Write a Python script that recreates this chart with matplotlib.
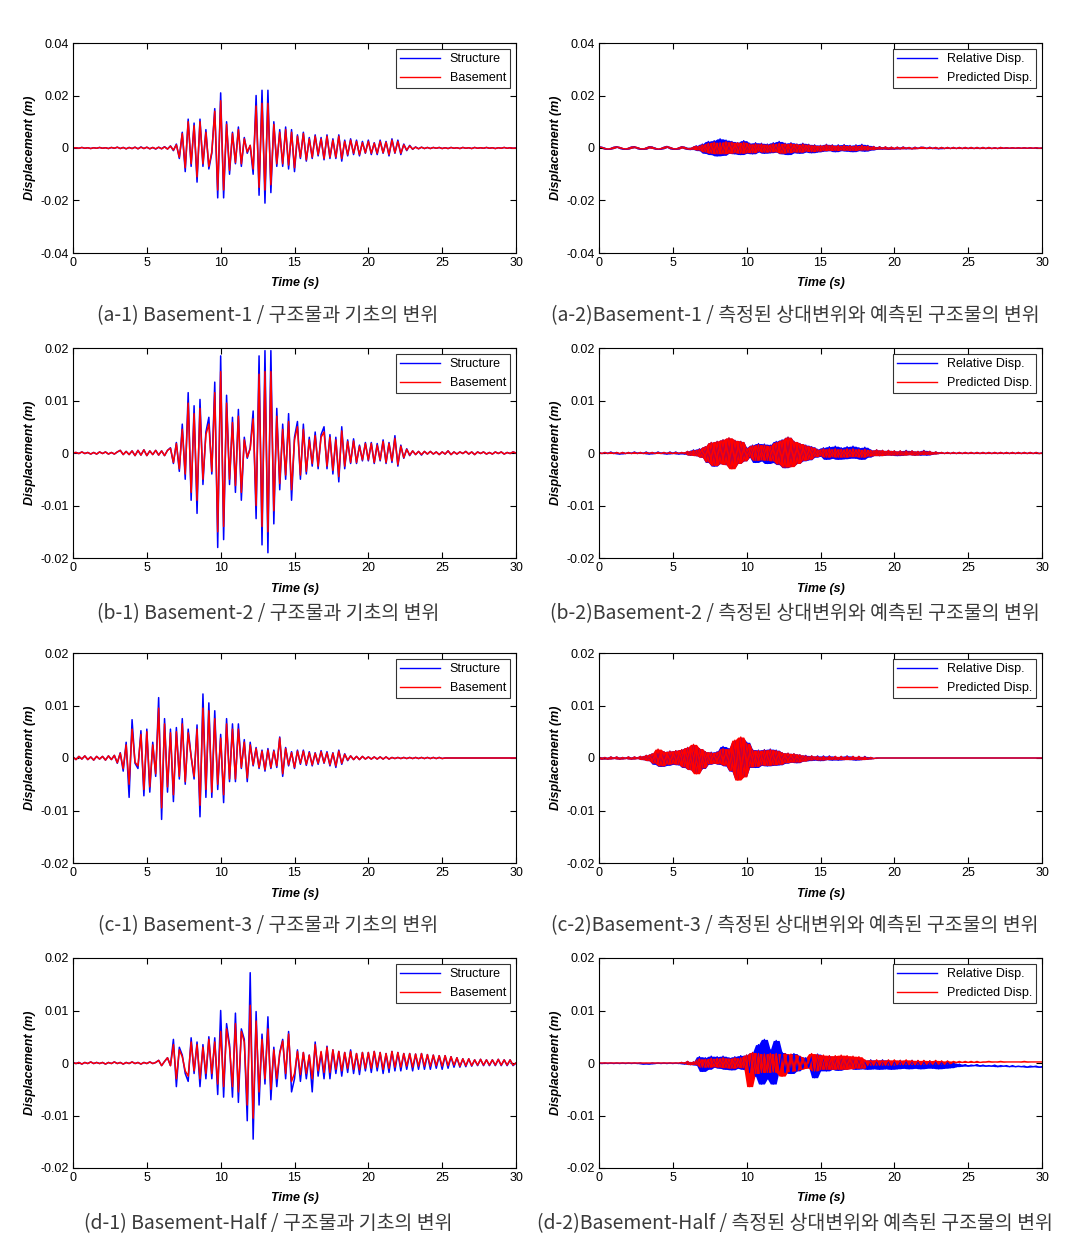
import numpy as np
import matplotlib

matplotlib.use("Agg")
import matplotlib.pyplot as plt

plt.rcParams["font.family"] = ["Liberation Sans", "DejaVu Sans"]

BLUE = "#0000FF"
RED = "#FF0000"
CAPTION_FONT = ["Noto Sans CJK KR", "DejaVu Sans"]

# peak-to-peak trace of each record, read every 0.2 s (values in 1e-4 m)
TIME_S = np.round(np.arange(151) * 0.2, 1)

struct_a1 = [
    0, 1, -1, 2, -1, 1, -2, 1, -1, 2,
    -1, 1, -2, 2, -1, 3, -2, 2, -3, 2,
    -2, 3, -3, 4, -2, 3, -3, 2, -4, 3,
    -3, 5, -4, 8, -10, 15, -40, 60, -90, 110,
    -70, 95, -130, 110, -70, 70, -80, -20, 150, -190,
    210, -190, 100, -100, 60, -60, 80, -70, 40, -20,
    10, -100, 200, -180, 220, -210, 220, -170, 100, -70,
    70, -70, 80, -80, 70, -90, 50, -40, 60, -50,
    40, -40, 50, -30, 40, -45, 50, -40, 35, -40,
    50, -50, 30, -30, 35, -25, 30, -30, 25, -20,
    30, -25, 20, -25, 30, -20, 25, -30, 35, -20,
    30, -25, 15, -10, 10, -5, 4, -3, 3, -2,
    2, -2, 2, -1, 2, -2, 1, -2, 2, -1,
    1, -2, 2, -1, 1, -2, 2, -1, 1, -1,
    2, -1, 1, -2, 1, -1, 2, -1, 1, -1,
    0,
]
base_a1 = [
    0, 1, -1, 2, -1, 1, -2, 1, -1, 2,
    -1, 1, -2, 2, -1, 3, -2, 2, -3, 2,
    -2, 3, -3, 3, -2, 3, -3, 2, -3, 3,
    -3, 4, -4, 7, -8, 12, -35, 55, -75, 100,
    -60, 85, -110, 100, -60, 60, -70, -15, 140, -160,
    180, -160, 90, -85, 55, -55, 70, -60, 35, -15,
    10, -80, 160, -150, 170, -160, 170, -140, 90, -60,
    60, -60, 70, -65, 60, -75, 45, -35, 55, -45,
    35, -35, 45, -25, 35, -40, 45, -35, 30, -35,
    45, -40, 25, -25, 30, -20, 25, -25, 20, -18,
    25, -20, 18, -20, 25, -18, 22, -25, 30, -18,
    25, -20, 12, -8, 8, -4, 3, -3, 3, -2,
    2, -2, 2, -1, 2, -2, 1, -2, 2, -1,
    1, -2, 2, -1, 1, -2, 2, -1, 1, -1,
    2, -1, 1, -2, 1, -1, 2, -1, 1, -1,
    0,
]
rel_a2 = [
    5, 3, -2, -5, -2, 3, 5, 2, -3, -5,
    -1, 4, 5, 1, -4, -5, 0, 5, 4, -2,
    -5, -3, 3, 6, 2, -4, -5, 0, 5, 3,
    -4, -6, 3, 8, -10, 15, -20, 25, -25, 28,
    -30, 35, -28, 30, -20, 25, -22, 20, -25, 28,
    -20, 18, -22, 20, -15, 18, -20, 15, -18, 20,
    -15, 25, -22, 18, -25, 20, -18, 15, -20, 18,
    -15, 14, -18, 12, -15, 10, -12, 14, -10, 12,
    -14, 12, -10, 13, -12, 10, -14, 12, -10, 14,
    -12, 10, -8, 6, -5, 5, -4, 4, -5, 3,
    -4, 3, -3, 4, -3, 2, -3, 3, -2, 3,
    2, -2, 3, -2, 2, -3, 2, -2, 2, -2,
    2, -2, 2, -2, 2, -2, 2, -2, 2, -2,
    2, -2, 2, -2, 1, -2, 2, -1, 1, -1,
    1, -1, 1, -1, 1, -1, 1, -1, 1, -1,
    0,
]
pred_a2 = [
    4, 2, -2, -4, -2, 2, 4, 2, -2, -4,
    -1, 3, 4, 1, -3, -4, 0, 4, 3, -2,
    -4, -2, 2, 5, 2, -3, -4, 0, 4, 2,
    -3, -5, 3, 6, -8, 12, -15, 18, -20, 22,
    -22, 20, -22, 24, -20, 22, -18, 20, -20, 22,
    -18, 15, -18, 16, -12, 15, -16, 12, -15, 16,
    -14, 18, -20, 16, -18, 17, -15, 14, -16, 15,
    -12, 12, -14, 10, -12, 9, -10, 12, -9, 10,
    -10, 9, -8, 10, -9, 8, -10, 9, -8, 10,
    -8, 7, -6, 5, -4, 4, -3, 4, -4, 3,
    -3, 3, -3, 3, -2, 2, -3, 2, -2, 2,
    2, -2, 2, -2, 2, -2, 2, -2, 2, -2,
    2, -2, 2, -2, 2, -2, 2, -2, 2, -2,
    2, -2, 2, -2, 1, -2, 2, -1, 1, -1,
    1, -1, 1, -1, 1, -1, 1, -1, 1, -1,
    0,
]

struct_b1 = [
    0, 1, -1, 2, -1, 1, -2, 1, -2, 2,
    -1, 2, -2, 1, -2, 2, 5, -3, 3, -3,
    4, -5, 5, -4, 6, -5, 4, -3, 5, -4,
    4, -5, 5, 10, -20, 20, -35, 55, -50, 115,
    -90, 90, -115, 102, -60, 40, 68, -40, 135, -180,
    185, -165, 110, -60, 68, -75, 83, -90, 30, -10,
    10, 80, -125, 185, -175, 195, -190, 195, -135, 85,
    -70, 55, -50, 75, -90, 30, 60, -50, 55, -40,
    30, -25, 40, -30, 35, 50, -30, 35, -40, 30,
    -55, 50, -30, 25, -20, 27, -20, 15, -15, 20,
    -15, 20, -20, 18, -15, 25, -20, 20, -18, 33,
    -25, 15, -10, 8, -5, 4, -3, 3, -4, 3,
    -2, 3, -2, 2, -3, 2, -2, 4, -3, 2,
    -2, 2, -1, 3, -2, 2, -3, 2, -1, 2,
    -2, 1, -2, 2, -1, 2, -2, 1, -1, 2,
    0,
]
base_b1 = [
    0, 1, -1, 2, -1, 1, -2, 1, -2, 2,
    -1, 2, -2, 1, -2, 2, 5, -3, 3, -3,
    4, -5, 5, -4, 6, -5, 4, -3, 5, -4,
    4, -5, 5, 9, -18, 18, -30, 45, -40, 95,
    -75, 75, -90, 85, -50, 35, 55, -35, 115, -150,
    155, -140, 95, -50, 58, -62, 70, -75, 25, -8,
    8, 65, -100, 150, -140, 155, -150, 155, -110, 70,
    -58, 45, -42, 60, -70, 25, 50, -42, 45, -35,
    25, -20, 33, -25, 30, 40, -25, 30, -33, 25,
    -45, 42, -25, 22, -18, 23, -18, 13, -13, 18,
    -13, 18, -18, 15, -13, 22, -18, 18, -15, 28,
    -22, 13, -9, 7, -4, 4, -3, 3, -3, 3,
    -2, 3, -2, 2, -3, 2, -2, 4, -3, 2,
    -2, 2, -1, 3, -2, 2, -3, 2, -1, 2,
    -2, 1, -2, 2, -1, 2, -2, 1, -1, 2,
    0,
]
rel_b2 = [
    1, -1, 1, -1, 2, -1, 1, -2, 1, -1,
    1, -1, 2, -1, 1, -1, 2, -2, 1, -1,
    2, -1, 1, -2, 2, -1, 2, -2, 1, -2,
    3, -4, 6, -5, 8, -8, 12, -18, 20, -25,
    22, -20, 25, -22, 28, -28, 24, -20, 22, -15,
    10, -8, 15, -18, 18, -15, 17, -20, 15, -18,
    22, -22, 25, -28, 30, -25, 22, -20, 18, -15,
    15, -13, 12, -8, 7, -6, 10, -12, 12, -10,
    13, -12, 10, -11, 12, -10, 13, -10, 10, -12,
    11, -8, 6, -5, 6, -5, 5, -4, 5, -4,
    4, -5, 4, -4, 5, -3, 4, -4, 3, -4,
    5, -4, 3, -2, 2, -1, 1, -1, 1, -1,
    1, -1, 1, -1, 1, -1, 1, -1, 1, -1,
    1, -1, 1, -1, 1, -1, 1, -1, 1, -1,
    1, -1, 1, -1, 1, -1, 1, -1, 1, -1,
    0,
]
pred_b2 = [
    1, -1, 1, -1, 1, -1, 1, -1, 1, -1,
    1, -1, 1, -1, 1, -1, 1, -1, 1, -1,
    1, -1, 1, -1, 1, -1, 1, -1, 1, -1,
    3, -4, 5, -5, 7, -8, 12, -17, 20, -24,
    22, -20, 25, -22, 29, -30, 24, -20, 22, -15,
    9, -7, 14, -14, 16, -13, 15, -14, 13, -15,
    20, -21, 24, -27, 30, -26, 22, -20, 18, -14,
    14, -12, 11, -7, 6, -5, 8, -8, 8, -7,
    8, -8, 7, -8, 8, -7, 8, -7, 7, -8,
    7, -6, 5, -5, 6, -5, 5, -4, 5, -4,
    4, -4, 4, -4, 4, -3, 4, -4, 3, -3,
    4, -3, 3, -2, 2, -1, 1, -1, 1, -1,
    1, -1, 1, -1, 1, -1, 1, -1, 1, -1,
    1, -1, 1, -1, 1, -1, 1, -1, 1, -1,
    1, -1, 1, -1, 1, -1, 1, -1, 1, -1,
    0,
]

struct_c1 = [
    2, -3, 3, -2, 4, -3, 2, -4, 3, -2,
    3, -4, 4, -3, 5, -10, 10, -25, 30, -75,
    73, -10, -20, 52, -72, 55, -65, 30, -35, 115,
    -117, 75, -65, 55, -83, 58, -40, 75, -50, 55,
    3, -40, 63, -112, 122, -75, 105, -75, 90, -60,
    45, -85, 75, -45, 65, -45, 65, -20, 35, -45,
    30, -15, 20, -20, 15, -25, 18, -20, 15, -18,
    40, -35, 20, -15, 12, -20, 15, -12, 15, -14,
    12, -15, 10, -12, 14, -10, 12, -15, 10, -18,
    15, -12, 8, -5, 4, -3, 3, -3, 3, -2,
    2, -2, 2, -2, 2, -2, 2, -2, 1, -1,
    1, -1, 1, -1, 1, -1, 1, -1, 1, -1,
    1, -1, 1, -1, 1, -1, 0, 0, 0, 0,
    0, 0, 0, 0, 0, 0, 0, 0, 0, 0,
    0, 0, 0, 0, 0, 0, 0, 0, 0, 0,
    0,
]
base_c1 = [
    2, -3, 3, -2, 4, -3, 2, -4, 3, -2,
    3, -4, 4, -3, 5, -9, 9, -20, 25, -50,
    55, -8, -15, 45, -60, 50, -55, 25, -30, 95,
    -95, 65, -55, 48, -70, 50, -35, 65, -45, 48,
    3, -35, 55, -90, 95, -60, 90, -65, 75, -50,
    38, -70, 65, -40, 55, -40, 55, -18, 30, -38,
    25, -13, 18, -18, 13, -22, 15, -18, 13, -15,
    38, -30, 18, -13, 10, -18, 13, -10, 13, -12,
    10, -13, 9, -10, 12, -9, 10, -13, 9, -15,
    13, -10, 7, -4, 4, -3, 3, -3, 3, -2,
    2, -2, 2, -2, 2, -2, 2, -2, 1, -1,
    1, -1, 1, -1, 1, -1, 1, -1, 1, -1,
    1, -1, 1, -1, 1, -1, 0, 0, 0, 0,
    0, 0, 0, 0, 0, 0, 0, 0, 0, 0,
    0, 0, 0, 0, 0, 0, 0, 0, 0, 0,
    0,
]
rel_c2 = [
    2, -2, 1, -2, 2, -1, 2, -2, 1, -1,
    2, -2, 2, -1, 3, -3, 5, -5, 8, -12,
    15, -16, 12, -14, 13, -12, 14, -13, 16, -18,
    20, -22, 24, -28, 18, -20, 12, -12, 11, -10,
    12, -12, 22, -15, 18, -25, 32, -40, 38, -35,
    30, -18, 16, -18, 15, -14, 16, -15, 17, -14,
    15, -13, 10, -10, 9, -8, 8, -9, 6, -6,
    5, -5, 4, -4, 4, -5, 4, -3, 4, -4,
    3, -4, 3, -3, 4, -3, 3, -4, 3, -3,
    3, -2, 1, -1, 0, 0, 0, 0, 0, 0,
    0, 0, 0, 0, 0, 0, 0, 0, 0, 0,
    0, 0, 0, 0, 0, 0, 0, 0, 0, 0,
    0, 0, 0, 0, 0, 0, 0, 0, 0, 0,
    0, 0, 0, 0, 0, 0, 0, 0, 0, 0,
    0, 0, 0, 0, 0, 0, 0, 0, 0, 0,
    0,
]
pred_c2 = [
    2, -2, 1, -2, 2, -1, 2, -2, 1, -1,
    2, -2, 2, -1, 3, -3, 5, -5, 8, -10,
    17, -15, 12, -12, 13, -11, 14, -12, 16, -17,
    20, -22, 26, -30, 18, -19, 12, -11, 10, -10,
    11, -11, 18, -14, 17, -24, 34, -42, 40, -36,
    28, -17, 15, -16, 14, -13, 15, -14, 16, -13,
    14, -12, 10, -9, 9, -8, 8, -8, 6, -6,
    4, -4, 4, -3, 3, -4, 3, -3, 3, -3,
    3, -3, 3, -3, 3, -3, 3, -3, 3, -3,
    2, -2, 1, -1, 0, 0, 0, 0, 0, 0,
    0, 0, 0, 0, 0, 0, 0, 0, 0, 0,
    0, 0, 0, 0, 0, 0, 0, 0, 0, 0,
    0, 0, 0, 0, 0, 0, 0, 0, 0, 0,
    0, 0, 0, 0, 0, 0, 0, 0, 0, 0,
    0, 0, 0, 0, 0, 0, 0, 0, 0, 0,
    0,
]

struct_d1 = [
    1, -1, 1, -2, 1, -1, 2, -1, 1, -1,
    1, -2, 1, -1, 2, -1, 1, -2, 1, -1,
    2, -1, 1, -2, 1, -1, 2, -1, 1, 5,
    -5, 3, 10, -5, 45, -45, 30, 15, -20, -35,
    48, -20, 40, -45, 35, -30, 50, -30, 48, -60,
    100, -65, 75, 35, -65, 95, -75, 65, 45, -110,
    172, -145, 98, -80, 55, -40, 88, -70, 30, -45,
    20, 45, -30, 60, -55, -30, 25, -35, 20, -30,
    15, -55, 40, -25, 20, -30, 32, -30, 25, -20,
    22, -25, 20, -18, 25, -20, 18, -22, 20, -15,
    20, -18, 22, -15, 20, -20, 18, -18, 22, -15,
    20, -15, 18, -12, 18, -15, 17, -12, 18, -12,
    16, -12, 15, -10, 14, -12, 14, -10, 12, -8,
    10, -8, 8, -7, 8, -6, 6, -5, 7, -5,
    6, -5, 6, -5, 7, -5, 6, -5, 6, -5,
    0,
]
base_d1 = [
    1, -1, 1, -2, 1, -1, 2, -1, 1, -1,
    1, -2, 1, -1, 2, -1, 1, -2, 1, -1,
    2, -1, 1, -2, 1, -1, 2, -1, 1, 5,
    -5, 3, 10, -5, 35, -30, 25, 12, -15, -25,
    40, -15, 35, -30, 30, -20, 45, -20, 40, -40,
    60, -45, 65, 30, -45, 75, -55, 60, 40, -80,
    110, -105, 80, -55, 45, -30, 65, -50, 25, -30,
    18, 42, -20, 55, -35, -20, 22, -22, 20, -20,
    15, -30, 35, -15, 22, -18, 30, -18, 25, -12,
    22, -15, 20, -10, 22, -12, 18, -13, 20, -10,
    20, -10, 22, -8, 20, -12, 18, -10, 22, -8,
    20, -8, 18, -6, 18, -8, 17, -6, 18, -6,
    16, -6, 15, -5, 14, -6, 14, -5, 12, -4,
    10, -6, 8, -5, 8, -5, 6, -4, 7, -4,
    6, -4, 6, -4, 7, -4, 6, -4, 6, -4,
    0,
]
rel_d2 = [
    0, -1, 0, -1, 0, -1, 0, -1, 0, -1,
    0, -1, 0, -1, 0, -2, -1, -2, 0, -1,
    0, -1, 0, -1, 0, -1, 0, -1, 1, -2,
    3, -3, 2, -4, 12, -16, 10, -12, 13, -8,
    12, -10, 13, -12, 10, -13, 12, -10, 14, -12,
    15, -18, 20, -25, 35, -40, 45, -30, 25, -40,
    43, -15, 20, -18, 15, -20, 18, -15, 12, -10,
    10, -8, 12, -28, 17, -15, 12, -15, 13, -12,
    12, -14, 13, -12, 12, -10, 11, -12, 10, -11,
    5, -12, 6, -11, 5, -12, 6, -11, 5, -12,
    4, -11, 5, -10, 4, -11, 5, -10, 4, -11,
    3, -10, 4, -10, 3, -11, 3, -10, 2, -9,
    0, -7, -2, -6, -3, -6, -4, -5, -3, -6,
    -4, -6, -5, -6, -4, -7, -5, -6, -5, -7,
    -5, -7, -6, -7, -6, -8, -6, -7, -6, -8,
    -7,
]
pred_d2 = [
    0, 0, 0, 0, 0, 0, 0, 0, 0, 0,
    0, 0, 0, 0, 0, 0, 0, 0, 0, 0,
    0, 0, 0, 0, 0, 0, 0, 0, 1, -1,
    3, -3, 2, -3, 8, -8, 7, -8, 9, -7,
    9, -8, 10, -9, 8, -10, 10, -8, 10, -9,
    15, -45, 20, -20, 18, -18, 17, -18, 18, -17,
    18, -18, -25, 18, -16, 17, -15, 15, -12, 10,
    -10, 8, 18, -15, 16, -12, 15, -12, 14, -12,
    14, -12, 15, -12, 14, -11, 13, -10, 12, -10,
    6, -4, 5, -4, 6, -4, 5, -4, 6, -4,
    6, -3, 5, -3, 6, -3, 5, -3, 5, -3,
    5, -2, 4, -2, 5, -2, 4, -2, 4, -1,
    3, 1, 3, 1, 3, 1, 3, 1, 3, 1,
    2, 2, 3, 2, 2, 2, 3, 2, 2, 2,
    2, 2, 2, 2, 3, 2, 2, 2, 2, 2,
    2,
]

LEFT_LABELS = ["Structure", "Basement"]
RIGHT_LABELS = ["Relative Disp.", "Predicted Disp."]
CAPTIONS = [
    ["(a-1) Basement-1 / 구조물과 기초의 변위",
     "(a-2)Basement-1 / 측정된 상대변위와 예측된 구조물의 변위"],
    ["(b-1) Basement-2 / 구조물과 기초의 변위",
     "(b-2)Basement-2 / 측정된 상대변위와 예측된 구조물의 변위"],
    ["(c-1) Basement-3 / 구조물과 기초의 변위",
     "(c-2)Basement-3 / 측정된 상대변위와 예측된 구조물의 변위"],
    ["(d-1) Basement-Half / 구조물과 기초의 변위",
     "(d-2)Basement-Half / 측정된 상대변위와 예측된 구조물의 변위"],
]
SERIES = [
    [(struct_a1, base_a1), (rel_a2, pred_a2)],
    [(struct_b1, base_b1), (rel_b2, pred_b2)],
    [(struct_c1, base_c1), (rel_c2, pred_c2)],
    [(struct_d1, base_d1), (rel_d2, pred_d2)],
]
Y_LIMITS = [0.04, 0.02, 0.02, 0.02]
X_TICKS = [0, 5, 10, 15, 20, 25, 30]

W, H = 1086, 1252
fig = plt.figure(figsize=(W / 100, H / 100), dpi=100)

col_left = [73, 599]
row_top = [43, 348, 653, 958]
caption_y = [316, 614, 926, 1224]
caption_x = [268, 795]
ax_w, ax_h = 443, 210
line_w = [1.1, 1.0]


def fmt(v):
    if v == 0:
        return "0"
    return "%.2f" % v


def swing(y):
    # min / max of each read peak with its neighbours: how a dense record paints
    p = np.pad(y, 1, mode="edge")
    stack = np.vstack([p[:-2], p[1:-1], p[2:]])
    return stack.min(axis=0), stack.max(axis=0)


for r in range(4):
    lim = Y_LIMITS[r]
    yt = np.linspace(-lim, lim, 5)
    for c in range(2):
        ax = fig.add_axes([col_left[c] / W, 1 - (row_top[r] + ax_h) / H, ax_w / W, ax_h / H])
        first, second = SERIES[r][c]
        labels = LEFT_LABELS if c == 0 else RIGHT_LABELS
        y1 = np.array(first) * 1e-4
        y2 = np.array(second) * 1e-4
        if c == 1:
            lo, hi = swing(y1)
            ax.fill_between(TIME_S, lo, hi, color=BLUE, lw=0)
        ax.plot(TIME_S, y1, color=BLUE, lw=line_w[c], label=labels[0])
        if c == 1:
            lo, hi = swing(y2)
            ax.fill_between(TIME_S, lo, hi, color=RED, lw=0)
        ax.plot(TIME_S, y2, color=RED, lw=line_w[c], label=labels[1])
        ax.set_xlim(0, 30)
        ax.set_ylim(-lim, lim)
        ax.set_xticks(X_TICKS)
        ax.set_yticks(yt)
        ax.set_yticklabels([fmt(v) for v in yt])
        ax.tick_params(direction="in", length=4, width=0.8, top=True, right=True,
                       labelsize=9, pad=3)
        for sp in ax.spines.values():
            sp.set_linewidth(0.8)
        ax.set_xlabel("Time (s)", fontsize=9, fontweight="bold", fontstyle="italic", labelpad=6)
        ax.set_ylabel("Displacement (m)", fontsize=9, fontweight="bold", fontstyle="italic",
                      labelpad=3)
        leg = ax.legend(loc="upper right", fontsize=9, frameon=True, fancybox=False,
                        edgecolor="black", borderaxespad=0.5, handlelength=3.2,
                        borderpad=0.3, labelspacing=0.55, handletextpad=0.8)
        leg.get_frame().set_linewidth(0.8)
        for h in leg.get_lines():
            h.set_linewidth(1.0)
        fig.text(caption_x[c] / W, 1 - caption_y[r] / H, CAPTIONS[r][c], ha="center",
                 va="center", fontsize=14.0, color="#3a3a3a", family=CAPTION_FONT,
                 fontweight="light")

fig.savefig("out.png", dpi=100)
